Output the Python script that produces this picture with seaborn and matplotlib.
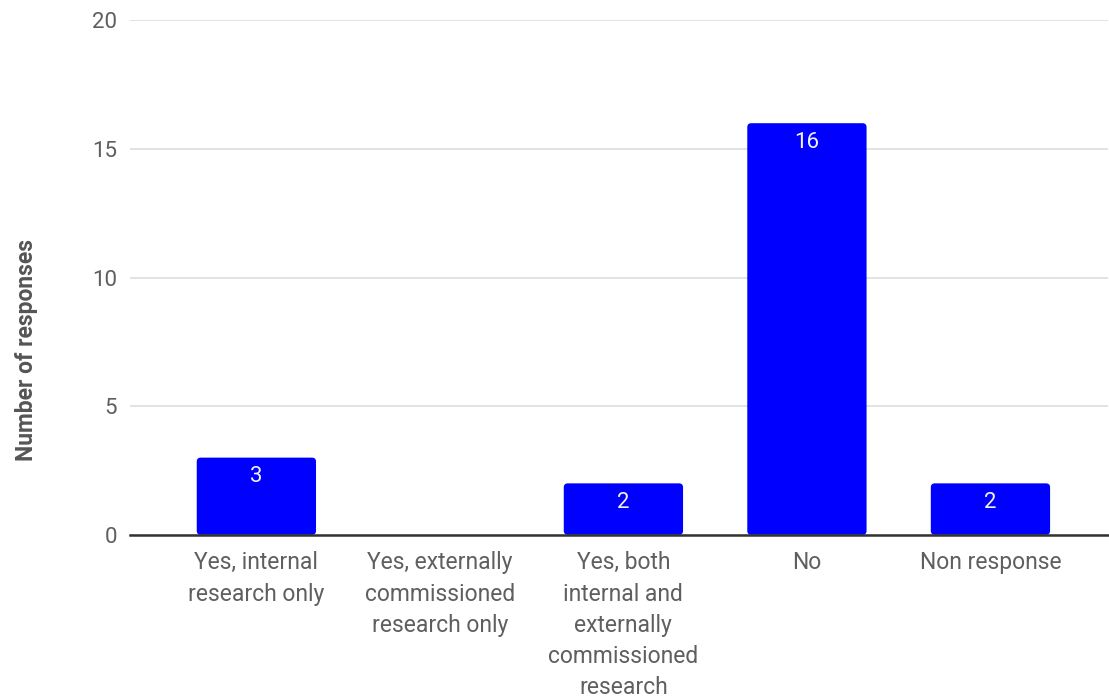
import matplotlib
matplotlib.use("Agg")
import matplotlib.pyplot as plt
from matplotlib.patches import FancyBboxPatch
import seaborn as sns
import pandas as pd

categories = ["Yes, internal\nresearch only",
              "Yes, externally\ncommissioned\nresearch only",
              "Yes, both\ninternal and\nexternally\ncommissioned\nresearch",
              "No",
              "Non response"]
values = [3, 0, 2, 16, 2]
y_ticks = [0, 5, 10, 15, 20]

sns.set_theme(style="white")
plt.rcParams['font.family'] = ['Roboto', 'DejaVu Sans']

df = pd.DataFrame({"cat": categories, "val": values})

fig = plt.figure(figsize=(11.09, 7.0), dpi=100)
ax = fig.add_axes([0.117, 0.236, 0.882, 0.735])

sns.barplot(data=df, x="cat", y="val", color="#0000ff", saturation=1,
            width=0.65, ax=ax, zorder=3)

ax.set_ylim(0, 20)
ax.set_xlim(-0.69, 4.64)
ax.set_yticks(y_ticks)
ax.yaxis.grid(True, color="#dddddd", linewidth=1.2, zorder=0)
ax.xaxis.grid(False)
for s in ["top", "right", "left"]:
    ax.spines[s].set_visible(False)
ax.spines["bottom"].set_color("#333333")
ax.spines["bottom"].set_linewidth(1.8)
ax.spines["bottom"].set_zorder(4)

# rounded top corners
fig.canvas.draw()
px_x = ax.transData.transform((1, 0))[0] - ax.transData.transform((0, 0))[0]
px_y = ax.transData.transform((0, 1))[1] - ax.transData.transform((0, 0))[1]
r = 4.0 / px_x
aspect = px_x / px_y
for p in list(ax.patches):
    if p.get_height() > 0:
        fb = FancyBboxPatch((p.get_x(), p.get_y()), p.get_width(), p.get_height(),
                            boxstyle=f"round,pad=0,rounding_size={r}",
                            mutation_aspect=aspect,
                            facecolor=p.get_facecolor(), edgecolor="none",
                            zorder=3)
        ax.add_patch(fb)
    p.set_visible(False)

ax.tick_params(axis="y", length=0, pad=9, labelsize=16, labelcolor="#5f5f5f")
ax.tick_params(axis="x", length=0, pad=12, labelsize=16.5, labelcolor="#5f5f5f")
for t in ax.get_xticklabels():
    t.set_linespacing(1.45)
ax.set_xlabel("")
ax.set_ylabel("Number of responses", fontsize=16.5, fontweight="bold",
              color="#555555")
ax.yaxis.set_label_coords(-0.094, 0.36)

for i, v in enumerate(values):
    if v > 0:
        ax.annotate(str(v), (i, v),
                    xytext=(0, -6), textcoords="offset points",
                    ha="center", va="top", color="#f2f2f2", fontsize=16, zorder=5)

fig.savefig("out.png", dpi=100)
